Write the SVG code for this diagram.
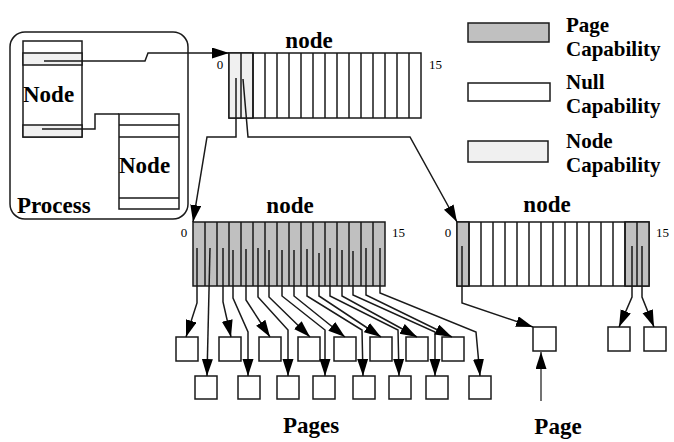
<svg xmlns="http://www.w3.org/2000/svg" width="674" height="442" viewBox="0 0 674 442">
<style>
.b{fill:none;stroke:#1a1a1a;stroke-width:1.5}
.w{fill:#fff;stroke:#1a1a1a;stroke-width:1.5}
.g{fill:#c0c0c0;stroke:#1a1a1a;stroke-width:1.5}
.l{fill:#f0f0f0;stroke:#1a1a1a;stroke-width:1.5}
.c{fill:none;stroke:#1a1a1a;stroke-width:1.5;marker-end:url(#ah)}
.t{font-family:"Liberation Serif","Times New Roman",serif;font-weight:bold;font-size:23px;fill:#000}
.lg{font-family:"Liberation Serif","Times New Roman",serif;font-weight:bold;font-size:21px;fill:#000}
.n{font-family:"Liberation Serif","Times New Roman",serif;font-size:13px;fill:#000}
</style>
<defs>
<marker id="ah" markerUnits="userSpaceOnUse" markerWidth="18" markerHeight="12" refX="17" refY="5.5" orient="auto">
<path d="M0,0L17,5.5L0,11z" fill="#000"/>
</marker>
</defs>
<rect width="674" height="442" fill="#fff"/>

<g id="process">
<rect x="10" y="32" width="178" height="187" rx="15" ry="15" class="b"/>
<text x="17" y="213" class="t">Process</text>
</g>
<g id="process-node-1">
<rect x="23" y="41" width="59" height="96" class="w"/>
<rect x="23" y="53" width="59" height="12" class="l"/>
<rect x="23" y="125" width="59" height="12" class="l"/>
<text x="23" y="102" class="t">Node</text>
</g>
<g id="process-node-2">
<rect x="119" y="114" width="60" height="95" class="w"/>
<path d="M119,125H179M119,137H179M119,198H179" class="b"/>
<text x="119" y="173" class="t">Node</text>
</g>

<g id="node-top">
<rect x="229" y="53" width="192" height="65" class="w"/>
<rect x="229" y="53" width="24" height="65" class="l"/>
<path d="M241,53V118M253,53V118M265,53V118M277,53V118M289,53V118M301,53V118M313,53V118M325,53V118M337,53V118M349,53V118M361,53V118M373,53V118M385,53V118M397,53V118M409,53V118" class="b"/>
<text x="309" y="48" class="t" text-anchor="middle">node</text>
<text x="220" y="69" class="n" text-anchor="middle">0</text>
<text x="429" y="69" class="n">15</text>
</g>

<g id="node-pages">
<rect x="193" y="222" width="192" height="64" class="g"/>
<path d="M205,222V286M217,222V286M229,222V286M241,222V286M253,222V286M265,222V286M277,222V286M289,222V286M301,222V286M313,222V286M325,222V286M337,222V286M349,222V286M361,222V286M373,222V286" class="b"/>
<text x="290" y="213" class="t" text-anchor="middle">node</text>
<text x="184" y="237" class="n" text-anchor="middle">0</text>
<text x="392" y="237" class="n">15</text>
</g>

<g id="node-page">
<rect x="457" y="222" width="192" height="64" class="w"/>
<rect x="457" y="222" width="12" height="64" class="g"/>
<rect x="625" y="222" width="24" height="64" class="g"/>
<path d="M469,222V286M481,222V286M493,222V286M505,222V286M517,222V286M529,222V286M541,222V286M553,222V286M565,222V286M577,222V286M589,222V286M601,222V286M613,222V286M625,222V286M637,222V286" class="b"/>
<text x="547" y="212" class="t" text-anchor="middle">node</text>
<text x="448" y="237" class="n" text-anchor="middle">0</text>
<text x="656" y="237" class="n">15</text>
</g>

<g id="pages">
<rect x="176" y="337" width="22" height="24" class="w"/>
<rect x="219" y="337" width="22" height="24" class="w"/>
<rect x="259" y="337" width="22" height="24" class="w"/>
<rect x="298" y="337" width="22" height="24" class="w"/>
<rect x="334" y="337" width="22" height="24" class="w"/>
<rect x="370" y="337" width="22" height="24" class="w"/>
<rect x="406" y="337" width="22" height="24" class="w"/>
<rect x="442" y="337" width="22" height="24" class="w"/>
<rect x="195" y="376" width="22" height="23" class="w"/>
<rect x="238" y="376" width="22" height="23" class="w"/>
<rect x="277" y="376" width="22" height="23" class="w"/>
<rect x="313" y="376" width="22" height="23" class="w"/>
<rect x="353" y="376" width="22" height="23" class="w"/>
<rect x="389" y="376" width="22" height="23" class="w"/>
<rect x="426" y="376" width="22" height="23" class="w"/>
<rect x="469" y="376" width="22" height="23" class="w"/>
<text x="311" y="433" class="t" text-anchor="middle">Pages</text>
</g>

<g id="page-single">
<rect x="533" y="327" width="23" height="24" class="w"/>
<text x="558" y="434" class="t" text-anchor="middle">Page</text>
</g>
<g id="page-right">
<rect x="608" y="327" width="22" height="24" class="w"/>
<rect x="644" y="327" width="22" height="24" class="w"/>
</g>

<g id="legend">
<rect x="468" y="23" width="81" height="19" class="g"/>
<text x="566" y="32" class="lg">Page</text>
<text x="566" y="56" class="lg">Capability</text>
<rect x="468" y="83" width="82" height="18" class="w"/>
<text x="566" y="89" class="lg">Null</text>
<text x="566" y="113" class="lg">Capability</text>
<rect x="468" y="141" width="80" height="21" class="l"/>
<text x="566" y="148" class="lg">Node</text>
<text x="566" y="172" class="lg">Capability</text>
</g>

<g id="connectors">
<path d="M44,61H145L148,53H229" class="c"/>
<path d="M42,129H95V114H119" class="b"/>
<path d="M236,78V137H207L193,222" class="c"/>
<path d="M243,79L248,137H410L457,222" class="c"/>
<path d="M462,246V303L533,327" class="c"/>
<path d="M632,246V297L619,327" class="c"/>
<path d="M642,246V297L654,327" class="c"/>
<path d="M541,401V352" class="c" style="stroke:#444"/>
<path d="M197,248V303L186,337" class="c"/>
<path d="M210,248L207,376" class="c"/>
<path d="M223,248V302L231,337" class="c"/>
<path d="M233,250V298L248,332V376" class="c"/>
<path d="M246,249V300L270,337" class="c"/>
<path d="M258,248V297L288,330V376" class="c"/>
<path d="M269,250V297L310,337" class="c"/>
<path d="M282,250V296L325,330V376" class="c"/>
<path d="M294,250V296L345,337" class="c"/>
<path d="M307,249V296L362,330L363,376" class="c"/>
<path d="M319,253V296L381,337" class="c"/>
<path d="M330,248V296L398,330L399,376" class="c"/>
<path d="M342,250V296L417,337" class="c"/>
<path d="M353,251V295L435,332V376" class="c"/>
<path d="M366,248V295L452,337" class="c"/>
<path d="M380,248V293L476,332L480,376" class="c"/>
</g>
</svg>
